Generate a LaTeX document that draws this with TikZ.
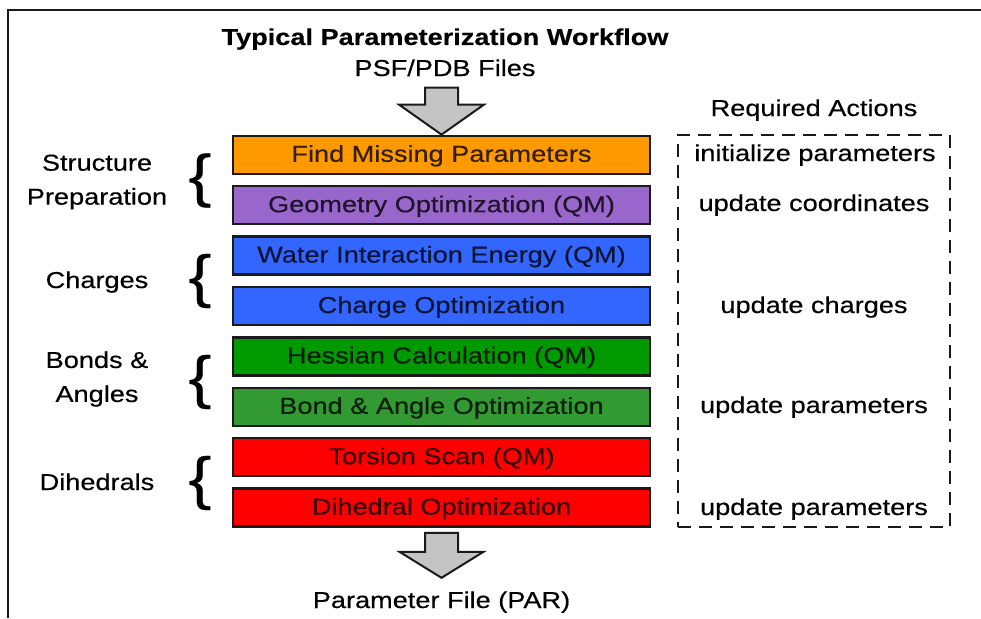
\documentclass[tikz,border=0pt]{standalone}
\usepackage{fontspec}
\setmainfont[FakeStretch=1.18, FakeBold=0.4]{Liberation Sans}
\usetikzlibrary{calc}

\definecolor{cOrange}{HTML}{FF9900}
\definecolor{cPurple}{HTML}{9966CC}
\definecolor{cBlue}{HTML}{3366FF}
\definecolor{cGreenA}{HTML}{009900}
\definecolor{cGreenB}{HTML}{339933}
\definecolor{cRed}{HTML}{FF0000}
\definecolor{cArrow}{HTML}{C4C4C4}
\definecolor{cInk}{HTML}{1A1A1A}

\tikzset{
  stepbox/.style={draw=cInk, line width=2.4pt, fill=#1, text=#1!20!black,
    minimum width=417pt, minimum height=38pt, inner sep=0pt,
    text height=17.5pt, text depth=3.5pt},
  lbl/.style={align=center, inner sep=0pt, text height=16.5pt, text depth=4.5pt},
  grouplbl/.style={align=center, inner sep=0pt},
  curly/.style={inner sep=0pt, font=\fontsize{58}{58}\selectfont},
  blockarrow/.style={draw=cInk, line width=2pt, fill=cArrow, line join=miter},
  actionframe/.style={draw=cInk, line width=2pt, dash pattern=on 13pt off 8pt,
    minimum width=272pt, minimum height=392pt, inner sep=0pt},
}

\begin{document}
\begin{tikzpicture}[x=1pt, y=-1pt, font=\fontsize{23}{34}\selectfont]
\useasboundingbox (0,0) rectangle (981,618);

% outer frame (open to the right and bottom)
\draw[cInk, line width=2pt] (8,618) -- (8,10) -- (981,10);

% headings
\node[lbl] (title) at (445,39) {\textbf{Typical Parameterization Workflow}};
\node[lbl] (psf) at (445,70) {PSF/PDB Files};
\node[lbl] (req) at (814,110) {Required Actions};

% workflow steps
\node[stepbox=cOrange] (s1) at (441.5,154.8) {Find Missing Parameters};
\node[stepbox=cPurple] (s2) at (441.5,205.2) {Geometry Optimization (QM)};
\node[stepbox=cBlue]   (s3) at (441.5,255.6) {Water Interaction Energy (QM)};
\node[stepbox=cBlue]   (s4) at (441.5,306.0) {Charge Optimization};
\node[stepbox=cGreenA] (s5) at (441.5,356.4) {Hessian Calculation (QM)};
\node[stepbox=cGreenB] (s6) at (441.5,406.8) {Bond \& Angle Optimization};
\node[stepbox=cRed]    (s7) at (441.5,457.2) {Torsion Scan (QM)};
\node[stepbox=cRed]    (s8) at (441.5,507.6) {Dihedral Optimization};

\node[lbl] (par) at (441.5,602) {Parameter File (PAR)};

% block arrows in and out of the workflow
\draw[blockarrow] (s1.north) -- ++(-42.5,-30) -- ++(26,0) -- ++(0,-17)
  -- ++(33,0) -- ++(0,17) -- ++(26,0) -- cycle;
\coordinate (outtip) at ($(s8.south)+(0,50)$);
\draw[blockarrow] (outtip) -- ++(-42,-26) -- ++(25.5,0) -- ++(0,-19)
  -- ++(33,0) -- ++(0,19) -- ++(25.5,0) -- cycle;

% group labels with braces
\node[grouplbl] (g1) at (97,182) {Structure\\Preparation};
\node[lbl] (g2) at (97,282) {Charges};
\node[grouplbl] (g3) at (97,379) {Bonds \&\\Angles};
\node[lbl] (g4) at (97,484) {Dihedrals};
\node[curly] (b1) at (200,180.5) {\{};
\node[curly] (b2) at (200,281) {\{};
\node[curly] (b3) at (200,382) {\{};
\node[curly] (b4) at (200,483) {\{};

% required actions
\node[actionframe] (frame) at (814,331) {};
\node[lbl] (a1) at (815,155) {initialize parameters};
\node[lbl] (a2) at (814,205) {update coordinates};
\node[lbl] (a3) at (814,307) {update charges};
\node[lbl] (a4) at (814,407) {update parameters};
\node[lbl] (a5) at (814,509) {update parameters};
\end{tikzpicture}
\end{document}
